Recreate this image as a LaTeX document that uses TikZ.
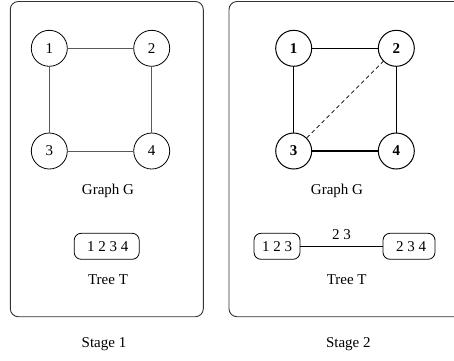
\documentclass[tikz,border=0pt]{standalone}
\usepackage{fontspec}
\setmainfont{Liberation Serif}
\begin{document}
\begin{tikzpicture}[x=1pt,y=-1pt,
  every node/.style={font=\fontsize{15}{18}\selectfont, inner sep=0pt},
  panel/.style={draw=black!80, line width=0.9pt, rounded corners=8pt},
  vtx/.style={circle, draw=black, line width=0.8pt, minimum size=36pt},
  vtxb/.style={vtx, font=\fontsize{15}{18}\selectfont\bfseries, line width=1pt},
  edgeA/.style={draw=black!65, line width=1pt},
  edgeB/.style={draw=black, line width=1.2pt},
  bag/.style={draw=black, line width=0.8pt, rounded corners=7pt, minimum height=26pt, inner xsep=6pt},
  caption/.style={anchor=center}]
\useasboundingbox (0,0) rectangle (454,360);
\begin{scope}
\clip (0,0) rectangle (454,360);
% panel frames
\draw[panel] (10.3,1.5) rectangle (203.3,316.7);
\draw[panel] (229,1.5) rectangle (470,316.7);
\end{scope}

% ---- Stage 1 ----
\node[vtx] (a1) at (49.3,48.3) {1};
\node[vtx] (a2) at (151.7,48.3) {2};
\node[vtx] (a3) at (49.3,151) {3};
\node[vtx] (a4) at (151.7,151) {4};
\draw[edgeA] (a1) -- (a2);
\draw[edgeA] (a1) -- (a3);
\draw[edgeA] (a2) -- (a4);
\draw[edgeA] (a3) -- (a4);
\node[caption] (ga) at (108,190.7) {Graph G};
\node[bag, minimum width=65pt] (ta) at (106.7,246.3) {\hspace{2pt}1 2 3 4};
\node[caption] (tta) at (108,280) {Tree T};
\node[caption] (sa) at (104,344) {Stage 1};

% ---- Stage 2 ----
\node[vtxb] (b1) at (293.7,48.3) {1};
\node[vtxb] (b2) at (396.3,48.3) {2};
\node[vtxb] (b3) at (293.7,151) {3};
\node[vtxb] (b4) at (396.3,151) {4};
\draw[edgeB] (b1) -- (b2);
\draw[edgeB] (b1) -- (b3);
\draw[edgeB] (b2) -- (b4);
\draw[edgeB] (b3) -- (b4);
\draw[draw=black, line width=0.7pt, dash pattern=on 4pt off 3pt] (b3) -- (b2);
\node[caption] (gb) at (337,190.7) {Graph G};
\node[bag, minimum width=46pt, inner xsep=3pt] (tb1) at (277,246.3) {1 2 3};
\node[bag, minimum width=52pt] (tb2) at (409,246.3) {\hspace{4pt}2 3 4};
\draw[draw=black, line width=0.9pt] (tb1) -- node[above=6pt, inner sep=0pt] {2 3} (tb2);
\node[caption] (ttb) at (346.7,280) {Tree T};
\node[caption] (sb) at (348.3,344) {Stage 2};
\end{tikzpicture}
\end{document}
